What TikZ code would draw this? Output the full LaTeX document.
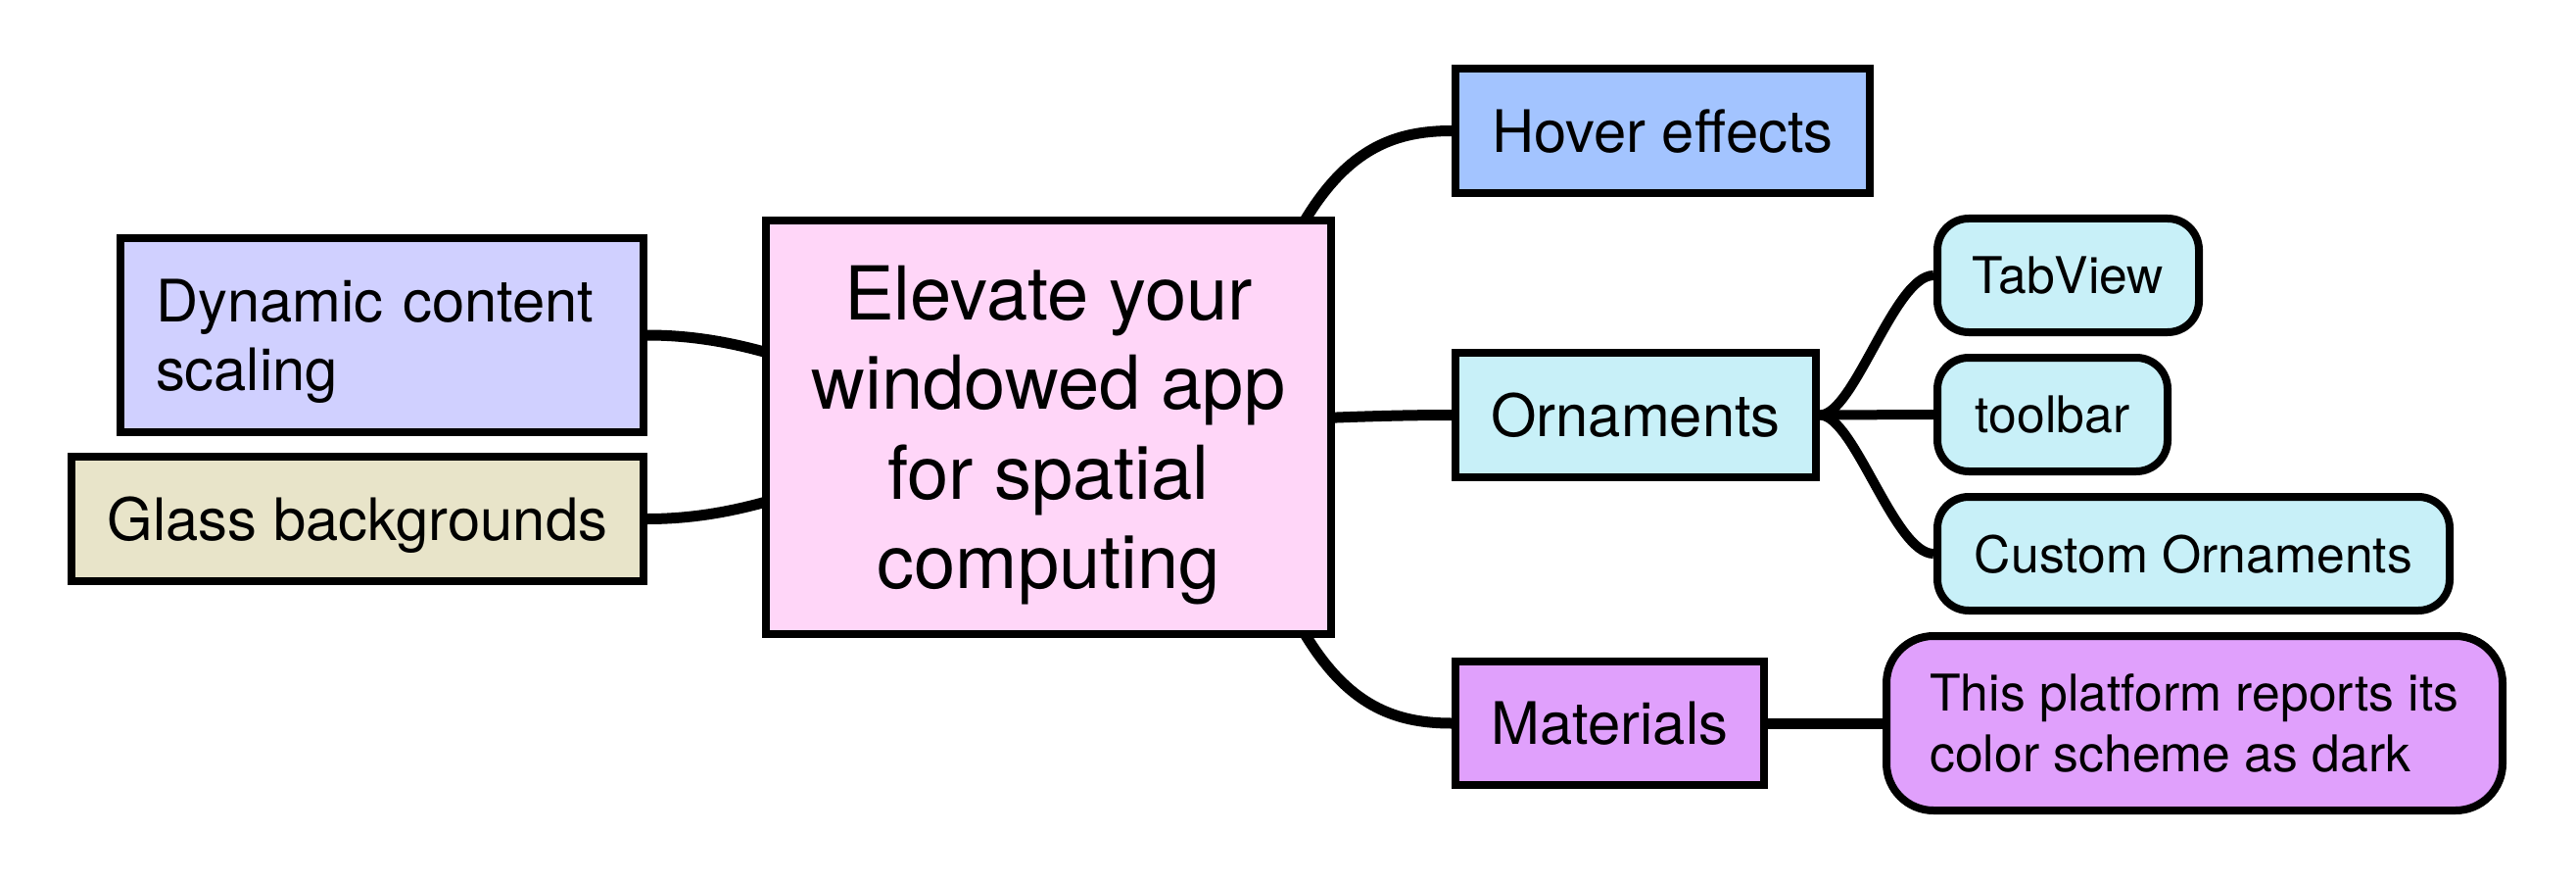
\documentclass[tikz,border=0pt]{standalone}
\usepackage{fontspec}
\setmainfont{TeX Gyre Heros}
\pgfdeclarelayer{bg}
\pgfdeclarelayer{edges}
\pgfsetlayers{bg,edges,main}
\definecolor{dynfill}{HTML}{D0D0FF}
\definecolor{glassfill}{HTML}{E8E4C9}
\definecolor{centerfill}{HTML}{FFD6F8}
\definecolor{hoverfill}{HTML}{A3C4FF}
\definecolor{ornfill}{HTML}{C8F0F8}
\definecolor{matfill}{HTML}{E0A0FC}
\newcommand{\myC}{\fontsize{21.6pt}{26pt}\selectfont}
\newcommand{\myS}{\fontsize{17pt}{20pt}\selectfont}
\newcommand{\myK}{\fontsize{14.7pt}{17pt}\selectfont}
\newcommand{\myP}{\fontsize{14.7pt}{17.6pt}\selectfont}
\tikzset{
  box/.style={draw=black, line width=0.08cm, inner sep=0pt, align=center},
  nodepth/.style={text depth=0pt},
  rbox/.style={box, nodepth, rounded corners=0.32cm},
  link/.style={line width=0.11cm},
  sublink/.style={line width=0.1cm}
}
\begin{document}
\begin{tikzpicture}
\useasboundingbox (0,0) rectangle (26.3,9);
% nodes
\node[box, nodepth, fill=centerfill, minimum width=5.77cm, minimum height=4.22cm, font=\myC] (c) at (10.705,4.64) {Elevate your\\windowed app\\for spatial\\computing};
\node[box, fill=dynfill, minimum width=5.34cm, minimum height=1.98cm, text width=4.62cm, text depth=20pt, align=left, font=\myS] (dyn) at (3.90,5.58) {Dynamic content\\scaling};
\node[box, nodepth, fill=glassfill, minimum width=5.84cm, minimum height=1.27cm, font=\myS] (glass) at (3.65,3.705) {Glass backgrounds};
\node[box, nodepth, fill=hoverfill, minimum width=4.23cm, minimum height=1.27cm, font=\myS] (hover) at (16.975,7.665) {Hover effects};
\node[box, nodepth, fill=ornfill, minimum width=3.68cm, minimum height=1.27cm, font=\myS] (orn) at (16.70,4.765) {Ornaments};
\node[box, nodepth, fill=matfill, minimum width=3.15cm, minimum height=1.26cm, font=\myS] (mat) at (16.435,1.62) {Materials};
\node[rbox, fill=ornfill, minimum width=2.67cm, minimum height=1.16cm, font=\myK] (tab) at (21.115,6.19) {TabView};
\node[rbox, fill=ornfill, minimum width=2.35cm, minimum height=1.16cm, font=\myK] (tool) at (20.955,4.77) {toolbar};
\node[rbox, fill=ornfill, minimum width=5.23cm, minimum height=1.16cm, font=\myK] (cust) at (22.395,3.35) {Custom Ornaments};
\node[rbox, rounded corners=0.48cm, fill=matfill, minimum width=6.29cm, minimum height=1.78cm, align=left, font=\myP] (plat) at (22.405,1.62) {This platform reports its\\color scheme as dark};
% background
\begin{pgfonlayer}{bg}
\fill[white] (0,0) rectangle (26.3,9);
\end{pgfonlayer}
% connectors
\begin{pgfonlayer}{edges}
\draw[link] (dyn.east) .. controls +(1.6,0) and +(-1.5,0) .. (c.center);
\draw[link] (glass.east) .. controls +(1.6,0) and +(-1.5,0) .. (c.center);
\draw[link] ([shift={(2.1,0.96)}]c.center) .. controls ([shift={(2.7,2.66)}]c.center) and +(-0.82,0) .. (hover.west);
\draw[link] ([shift={(2.1,-0.96)}]c.center) .. controls ([shift={(2.7,-2.66)}]c.center) and +(-0.82,0) .. (mat.west);
\draw[link] (c.center) .. controls +(1.5,0) and +(-1.4,0) .. (orn.west);
\draw[sublink] (orn.east) .. controls +(0.35,0) and +(-0.4,0) .. (tab.west);
\draw[sublink] (orn.east) -- (tool.west);
\draw[sublink] (orn.east) .. controls +(0.35,0) and +(-0.4,0) .. (cust.west);
\draw[link] (mat.east) -- (plat.west);
\end{pgfonlayer}
\end{tikzpicture}
\end{document}
